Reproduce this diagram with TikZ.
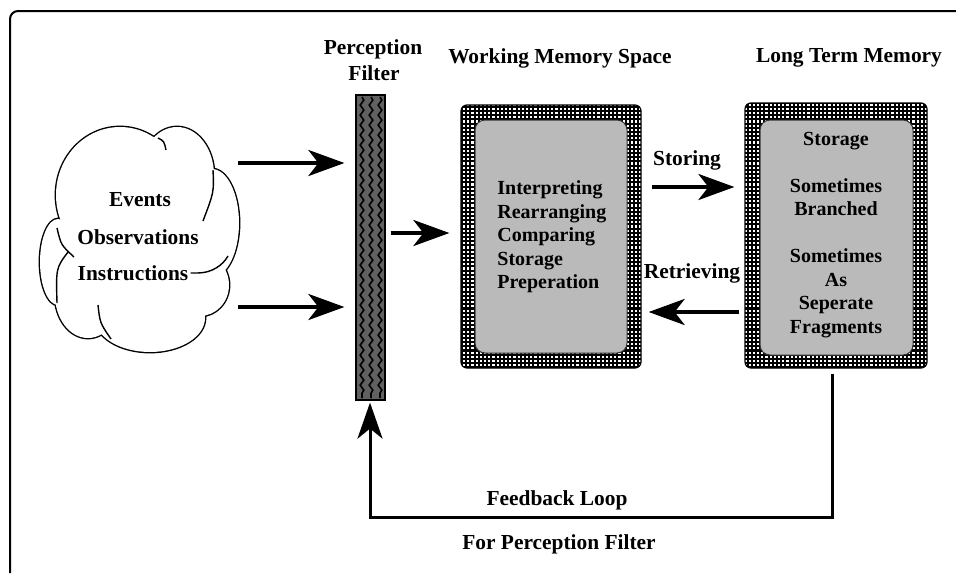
\documentclass[tikz,border=0pt]{standalone}
\usepackage{fontspec}
\setmainfont{Liberation Serif}
\usetikzlibrary{arrows.meta,decorations.pathmorphing,patterns}
\pgfdeclarepatternformonly{checks}{\pgfpoint{-0.1pt}{-0.1pt}}{\pgfpoint{2.2pt}{2.2pt}}{\pgfpoint{2.1pt}{2.1pt}}{\pgfpathrectangle{\pgfpoint{0.5pt}{0.5pt}}{\pgfpoint{1.05pt}{1.05pt}}\pgfusepath{fill}}
\begin{document}
\begin{tikzpicture}[x=0.5pt,y=-0.5pt,
  font=\bfseries\fontsize{10.7}{12}\selectfont,
  lbl/.style={inner sep=0pt},
  boxtext/.style={inner sep=0pt, font=\bfseries\fontsize{10}{11.75}\selectfont},
  memout/.style={rectangle, rounded corners=3pt, draw=black, line width=0.6pt,
     preaction={fill=black}, pattern=checks, pattern color=white, inner sep=0pt},
  meminner/.style={rectangle, rounded corners=5pt, draw=black!80, line width=0.5pt,
     fill=black!27, inner sep=0pt},
  cl/.style={line width=0.7pt},
  arr/.style={line width=2pt, -{Stealth[length=18pt,width=13pt,inset=5pt]}},
  fb/.style={line width=1.5pt, -{Stealth[length=18pt,width=12.5pt,inset=5pt]}},
  wave/.style={line width=0.8pt, decorate, decoration={snake, amplitude=0.9pt, segment length=5pt}}
]
\useasboundingbox (0,0) rectangle (956,573);
\fill[white] (0,0) rectangle (956,573);
% page frame
\draw[line width=1pt, rounded corners=4pt] (10,573) -- (10,11) -- (956,11);

% cloud: outer contour of overlapping lobes
\def\lobes{58/262/18/43, 88/295/33/43, 150/318/55/34, 200/285/29/31, 212/223/27/54, 177/175/37/48, 120/195/64/68}
\foreach \cx/\cy/\rx/\ry in \lobes
  \draw[line width=1.4pt] (\cx,\cy) ellipse [x radius=\rx, y radius=\ry];
\foreach \cx/\cy/\rx/\ry in \lobes
  \fill[white] (\cx,\cy) ellipse [x radius=\rx, y radius=\ry];
\fill[white] (137,243) ellipse [x radius=63, y radius=77];
\fill[white] (170,190) ellipse [x radius=30, y radius=40];
\fill[white] (200,250) ellipse [x radius=20, y radius=30];
\fill[white] (80,270) ellipse [x radius=22, y radius=25];
% interior lobe arcs
\draw[cl] (158,138) .. controls (164,141) .. (166,150);
\draw[cl] (213,170) .. controls (214,192) .. (203,221);
\draw[cl] (57,228) .. controls (61,245) .. (74,257);
\draw[cl] (68,252) .. controls (56,268) .. (57,303);
\draw[cl] (98,305) .. controls (100,323) .. (111,339);
\coordinate (cloud) at (140,240);
\node[lbl] (evt) at (140,200) {Events};
\node[lbl] (obs) at (138,237) {Observations};
\node[lbl] (ins) at (133,273) {Instructions};
\coordinate (tailend) at (228,256);
\draw[cl] ([xshift=1pt]ins.east) -- ++(7,0) .. controls (212,273) and (223,265) .. (tailend);

% perception filter
\node[lbl] (pt1) at (373,49) {Perception};
\node[lbl] (pt2) at (374,73) {Filter};
\node[rectangle, draw=black, line width=0.6pt, fill=black!62, minimum width=14.5pt, minimum height=152.5pt, inner sep=0pt] (filter) at (370.5,247.5) {};
\draw[wave] (362,97) -- (362,398);
\draw[wave] (371,97) -- (371,398);
\draw[wave] (380,97) -- (380,398);

% working memory
\node[lbl] (wmt) at (560,58) {Working Memory Space};
\node[memout, minimum width=90pt, minimum height=131.5pt] (wm) at (551,236.5) {};
\node[meminner, minimum width=76pt, minimum height=116.5pt] (wmin) at (551,236.5) {};
\node[boxtext, anchor=west, align=left] (wmtext) at (497,237) {Interpreting\\Rearranging\\Comparing\\Storage\\Preperation};

% long term memory
\node[lbl] (ltmt) at (849,58) {Long Term Memory};
\node[memout, minimum width=91pt, minimum height=132.5pt] (ltm) at (836,235.5) {};
\node[meminner, minimum width=76.5pt, minimum height=117.5pt] (ltmin) at (836.5,237.5) {};
\node[boxtext, align=center] (ltmtext) at (836,235) {Storage\\[11.75pt]Sometimes\\Branched\\[11.75pt]Sometimes\\As\\Seperate\\Fragments};

% arrows
\coordinate (a1) at (238,163);
\coordinate (a2) at (238,307);
\draw[arr, shorten >=5.5pt] (a1) -- (filter.west |- a1);
\draw[arr, shorten >=5.5pt] (a2) -- (filter.west |- a2);
\coordinate (a3) at (390,233);
\draw[arr, shorten <=2.5pt, shorten >=5.5pt] (filter.east |- a3) -- (wm.west |- a3);
\coordinate (a4) at (651,187);
\draw[arr, shorten <=5pt, shorten >=5pt] (wm.east |- a4) -- (ltm.west |- a4);
\coordinate (a5) at (700,312);
\draw[arr, shorten <=2.5pt, shorten >=3.5pt] (ltm.west |- a5) -- (wm.east |- a5);
\node[lbl] (storing) at (687,160) {Storing};
\node[lbl] (retr) at (692,273) {Retrieving};

% feedback loop
\coordinate (fbr) at (832,517);
\coordinate (fbl) at (370,517);
\draw[fb, shorten <=2.5pt, shorten >=1pt] (ltm.south -| fbr) -- (fbr) -- (fbl) -- (filter.south -| fbl);
\node[lbl] (fbt) at (557,500) {Feedback Loop};
\node[lbl] (fbt2) at (559,544) {For Perception Filter};
\end{tikzpicture}
\end{document}
